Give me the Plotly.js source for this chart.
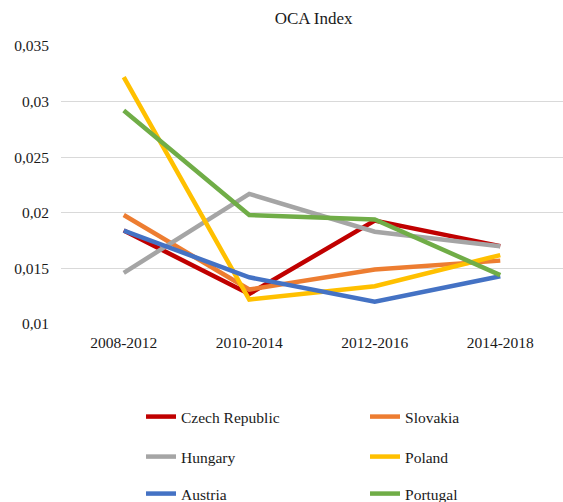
<!DOCTYPE html>
<html><head><meta charset="utf-8">
<script src="https://cdn.plot.ly/plotly-3.0.1.min.js"></script>
<style>body{margin:0;padding:0;background:#fff}#chart{width:563px;height:502px}</style>
</head><body><div id="chart"></div>
<script>
const periods = ["2008-2012", "2010-2014", "2012-2016", "2014-2018"];
const czech = [0.0184, 0.0127, 0.0193, 0.0170];
const slovakia = [0.0198, 0.0131, 0.0149, 0.0157];
const hungary = [0.0146, 0.0217, 0.0183, 0.0170];
const poland = [0.0322, 0.0122, 0.0134, 0.0162];
const austria = [0.0184, 0.0142, 0.0120, 0.0143];
const portugal = [0.0292, 0.0198, 0.0194, 0.0144];
const names = ["Czech Republic", "Slovakia", "Hungary", "Poland", "Austria", "Portugal"];
const colors = ["#C00000", "#ED7D31", "#A5A5A5", "#FFC000", "#4472C4", "#70AD47"];
const series = [czech, slovakia, hungary, poland, austria, portugal];
const legendIds = ["legend", "legend2", "legend3", "legend4", "legend5", "legend6"];

const FONT = "Liberation Serif, Times New Roman, serif";
const traces = series.map((s, i) => ({
  x: periods, y: s, name: names[i], type: "scatter", mode: "lines",
  line: {color: colors[i], width: 4.5}, legend: legendIds[i]
}));

const colX = [0.1594, 0.6056];
const rowY = [1 - 417 / 502, 1 - 457 / 502, 1 - 494 / 502];
function leg(i) {
  return {orientation: "h", xref: "paper", x: colX[i % 2], xanchor: "left",
          yref: "container", y: rowY[Math.floor(i / 2)], yanchor: "middle",
          bgcolor: "rgba(0,0,0,0)",
          font: {family: FONT, size: 15.5, color: "#1a1a1a"}};
}

const layout = {
  width: 563, height: 502,
  margin: {l: 61, r: 0, t: 46, b: 178},
  paper_bgcolor: "#fff", plot_bgcolor: "#fff",
  separators: ",.",
  font: {family: FONT, size: 15.5, color: "#1a1a1a"},
  title: {text: "OCA Index", x: 0.557, xanchor: "center", y: 0.965, yanchor: "middle",
          font: {family: FONT, size: 17, color: "#1a1a1a"}},
  xaxis: {range: [-0.5, 3.5], showgrid: false, showline: false, zeroline: false, ticks: "",
          ticklabelstandoff: 7, tickfont: {family: FONT, size: 15.5, color: "#1a1a1a"}},
  yaxis: {range: [0.01, 0.035], dtick: 0.005, tick0: 0.01, showgrid: true, gridcolor: "#D9D9D9",
          gridwidth: 1.3, zeroline: false, showline: false, ticks: "", ticklabelstandoff: 11,
          tickfont: {family: FONT, size: 15.5, color: "#1a1a1a"}},
  showlegend: true
};
legendIds.forEach((id, i) => { layout[id] = leg(i); });
Plotly.newPlot("chart", traces, layout, {displayModeBar: false, staticPlot: true});
</script></body></html>
